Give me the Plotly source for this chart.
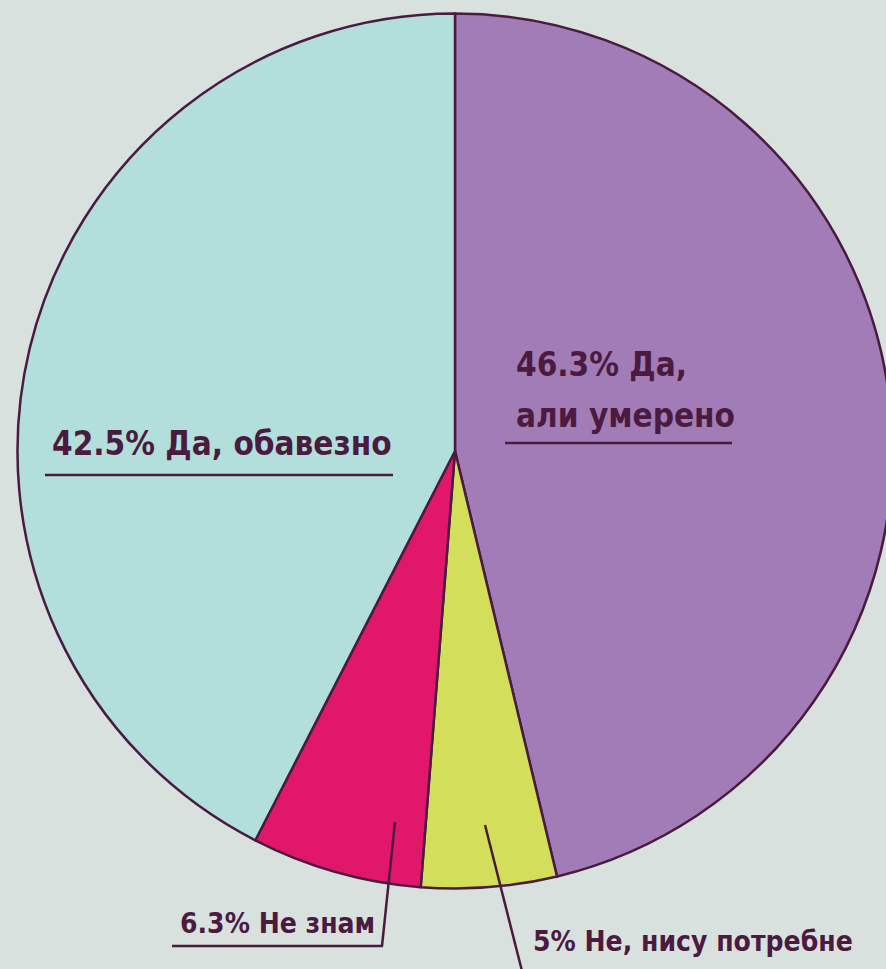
import plotly.graph_objects as go

labels = ["Да, али умерено", "Не, нису потребне", "Не знам", "Да, обавезно"]
values = [46.3, 5, 6.3, 42.5]
colors = ["#a27cb6", "#d3df5b", "#e0176a", "#b2dfdc"]
label_texts = ["46.3% Да,", "али умерено", "5% Не, нису потребне", "6.3% Не знам", "42.5% Да, обавезно"]

W, H = 900, 969
BG = "#d8e1dd"
INK = "#4b1b3f"
FONT = "DejaVu Sans Condensed, Liberation Sans Narrow, sans-serif"

cx, cy, r = 455, 451, 437.5

def px(x):
    return x / W

def py(y):
    return 1 - y / H

fig = go.Figure(go.Pie(
    labels=labels, values=values, sort=False, direction="clockwise", rotation=0,
    marker=dict(colors=colors, line=dict(color=INK, width=2.5)),
    textinfo="none", hoverinfo="label+percent", showlegend=False,
    domain=dict(x=[px(cx - r), px(cx + r)], y=[py(cy + r), py(cy - r)]),
))

ann = [
    (514, 364, label_texts[0], 33),
    (514, 416, label_texts[1], 33),
    (531, 941, label_texts[2], 28),
    (178, 923, label_texts[3], 28),
    (50, 443, label_texts[4], 33),
]
annotations = []
for x, y, t, s in ann:
    annotations.append(dict(
        x=px(x), y=py(y), xref="paper", yref="paper", text="<b>" + t + "</b>",
        showarrow=False, xanchor="left", yanchor="middle", align="left",
        font=dict(family=FONT, size=s, color=INK),
    ))

line = dict(color=INK, width=2.5)
shapes = [
    dict(type="line", xref="paper", yref="paper", x0=px(505), x1=px(732), y0=py(443), y1=py(443), line=line),
    dict(type="line", xref="paper", yref="paper", x0=px(45), x1=px(393), y0=py(475), y1=py(475), line=line),
    dict(type="line", xref="paper", yref="paper", x0=px(172), x1=px(383), y0=py(946), y1=py(946), line=line),
    dict(type="line", xref="paper", yref="paper", x0=px(382), x1=px(395), y0=py(946), y1=py(822), line=line),
    dict(type="line", xref="paper", yref="paper", x0=px(485), x1=px(523), y0=py(825), y1=py(975), line=line),
]

fig.update_layout(
    width=W, height=H, margin=dict(l=0, r=0, t=0, b=0),
    paper_bgcolor=BG, plot_bgcolor=BG,
    annotations=annotations, shapes=shapes,
)

fig.write_html(
    "out.html",
    config={"displayModeBar": False},
    post_script="document.body.style.margin='0';document.body.style.overflow='hidden';document.body.style.background='" + BG + "';",
)
